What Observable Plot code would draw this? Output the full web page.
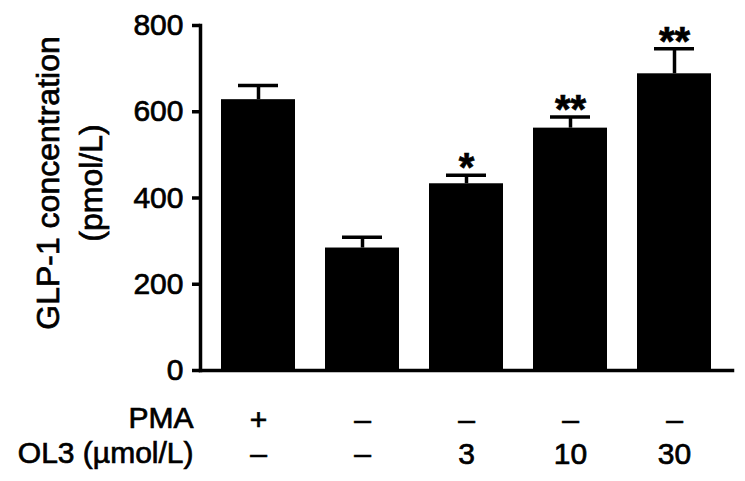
<!DOCTYPE html>
<html>
<head>
<meta charset="utf-8">
<script src="https://cdn.jsdelivr.net/npm/d3@7"></script>
<script src="https://cdn.jsdelivr.net/npm/@observablehq/plot@0.6"></script>
<style>
  html, body { margin: 0; padding: 0; background: #fff; }
  #chart svg { display: block; }
  #chart svg text { stroke: #000; stroke-width: 0.7px; }
</style>
</head>
<body>
<div id="chart"></div>
<script>
// ---- data ----
const groups = ["G1", "G2", "G3", "G4", "G5"];
const means = [628, 284, 433, 562, 688];
const errors = [33, 25, 20, 26, 58];
const stars = ["", "", "*", "**", "**"];
const pmaLabels = ["+", "\u2013", "\u2013", "\u2013", "\u2013"];
const ol3Labels = ["\u2013", "\u2013", "3", "10", "30"];
const yTicks = [0, 200, 400, 600, 800];
const yTitleLines = ["GLP-1 concentration", "(pmol/L)"];
const rowTitles = ["PMA", "OL3 (\u00b5mol/L)"];

const data = groups.map((g, i) => ({
  g, mean: means[i], err: errors[i], star: stars[i],
  pma: pmaLabels[i], ol3: ol3Labels[i]
}));

const font = "'Liberation Sans', Arial, Helvetica, sans-serif";
const lw = 3.5;

const chart = Plot.plot({
  width: 745,
  height: 481,
  marginTop: 25,
  marginBottom: 111,
  marginLeft: 200,
  marginRight: 13,
  style: { fontFamily: font, background: "#fff", color: "#000" },
  x: { domain: groups, paddingInner: 0.29, paddingOuter: 0.2, axis: null },
  y: { domain: [0, 800], axis: null },
  marks: [
    Plot.barY(data, { x: "g", y: "mean", fill: "#000" }),
    Plot.ruleX(data, { x: "g", y1: "mean", y2: d => d.mean + d.err, stroke: "#000", strokeWidth: lw }),
    Plot.tickY(data, { x: "g", y: d => d.mean + d.err, stroke: "#000", strokeWidth: lw, insetLeft: 17, insetRight: 17 }),
    Plot.text(data, { x: "g", y: d => d.mean + d.err, text: "star", fontSize: 40, fontWeight: "bold", lineAnchor: "middle", dy: -7, fill: "#000" }),
    // axes
    Plot.frame({ anchor: "left", stroke: "#000", strokeWidth: lw }),
    Plot.frame({ anchor: "bottom", stroke: "#000", strokeWidth: lw }),
    Plot.axisY({ ticks: yTicks, tickSize: 8, tickPadding: 9, fontSize: 30, strokeWidth: lw, label: null, tickFormat: d => String(d) }),
    Plot.axisX({ tickSize: 0, tickPadding: 38, fontSize: 30, label: null, tickFormat: d => pmaLabels[groups.indexOf(d)] }),
    Plot.axisX({ tickSize: 0, tickPadding: 72, fontSize: 30, label: null, tickFormat: d => ol3Labels[groups.indexOf(d)] }),
    // row titles
    Plot.text([rowTitles[0]], { frameAnchor: "bottom-left", textAnchor: "end", lineAnchor: "middle", dx: -7, dy: 48, fontSize: 30, fill: "#000" }),
    Plot.text([rowTitles[1]], { frameAnchor: "bottom-left", textAnchor: "end", lineAnchor: "middle", dx: -7, dy: 83, fontSize: 30, fill: "#000" }),
    // y title (two lines, rotated)
    Plot.text([yTitleLines.join("\n")], { frameAnchor: "left", rotate: -90, textAnchor: "middle", lineAnchor: "middle", lineHeight: 1.34, dx: -134, dy: -15, fontSize: 32, fill: "#000" })
  ]
});
document.getElementById("chart").appendChild(chart);
</script>
</body>
</html>
